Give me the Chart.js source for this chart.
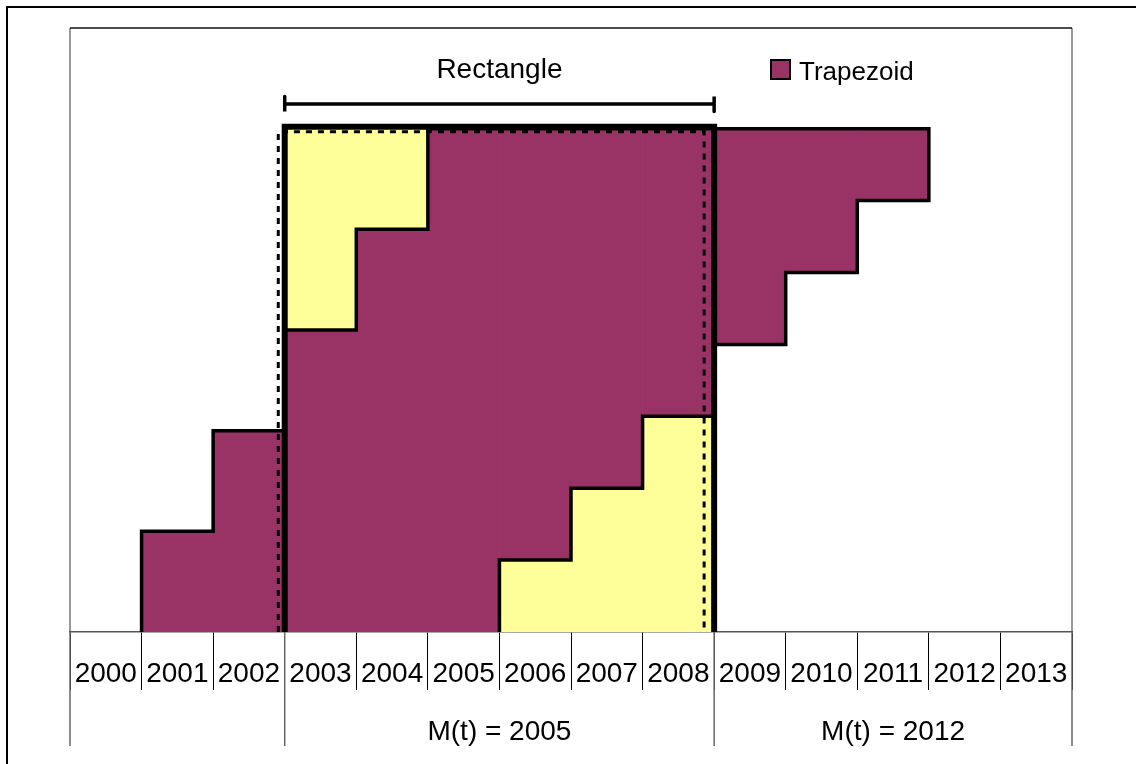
<!DOCTYPE html>
<html>
<head>
<meta charset="utf-8">
<script src="https://cdn.jsdelivr.net/npm/chart.js@4/dist/chart.umd.min.js"></script>
<style>
html,body{margin:0;padding:0;background:#fff;}
#wrap{position:relative;width:1136px;height:764px;}
</style>
</head>
<body>
<div id="wrap"><canvas id="c" width="1136" height="764"></canvas></div>
<script>
// ---- data ----
const years = ['2000','2001','2002','2003','2004','2005','2006','2007','2008','2009','2010','2011','2012','2013'];
const rectangleValues = [null,null,null,1,1,1,1,1,1,null,null,null,null,null];
const trapezoidLow  = [null,0,0,0,0,0,1/7,2/7,3/7,4/7,5/7,6/7,null,null];
const trapezoidHigh = [null,0.2,0.4,0.6,0.8,1,1,1,1,1,1,1,null,null];
const groupLabels = ['', 'M(t) = 2005', 'M(t) = 2012'];
const groupStarts = [0, 3, 9];
const seriesNames = ['Rectangle', 'Trapezoid'];

// ---- derived geometry (from the data) ----
const FONT = "'Liberation Sans', Arial, sans-serif";
const PURPLE = '#993366';
const YELLOW = '#FFFF99';

function rectExtent() {
  const idx = rectangleValues.map((v,i)=>v==null?null:i).filter(v=>v!=null);
  return {x0: idx[0], x1: idx[idx.length-1]+1, h: Math.max(...idx.map(i=>rectangleValues[i]))};
}
const R = rectExtent();

function trapezoidOutline() {
  const idx = trapezoidHigh.map((v,i)=>v==null?null:i).filter(v=>v!=null);
  const first = idx[0], last = idx[idx.length-1];
  const pts = [{x:first, y:trapezoidLow[first]}];
  idx.forEach(i => { pts.push({x:i, y:trapezoidHigh[i]}, {x:i+1, y:trapezoidHigh[i]}); });
  pts.push({x:last+1, y:trapezoidLow[last]});
  for (let i = last; i >= first; i--) {
    if (trapezoidLow[i] === 0) { pts.push({x:i+1, y:0}); break; }
    pts.push({x:i+1, y:trapezoidLow[i]}, {x:i, y:trapezoidLow[i]});
  }
  return pts;
}
function rectOutline(dx0, dx1, dy) {
  return [{x:R.x0+dx0, y:0}, {x:R.x0+dx0, y:R.h+dy}, {x:R.x1+dx1, y:R.h+dy}, {x:R.x1+dx1, y:0}];
}
function bracket(yc, cap) {
  return [{x:R.x0, y:yc+cap}, {x:R.x0, y:yc-cap}, {x:R.x0, y:yc}, {x:R.x1, y:yc}, {x:R.x1, y:yc+cap}, {x:R.x1, y:yc-cap}];
}

const decor = {
  id: 'decor',
  beforeDraw(chart) {
    const ctx = chart.ctx, a = chart.chartArea;
    ctx.save();
    ctx.fillStyle = '#fff';
    ctx.fillRect(0, 0, chart.width, chart.height);
    // outer frame
    ctx.strokeStyle = '#000'; ctx.lineWidth = 2;
    ctx.beginPath(); ctx.moveTo(7, chart.height); ctx.lineTo(7, 7); ctx.lineTo(chart.width, 7); ctx.stroke();
    // plot frame
    ctx.strokeStyle = '#777'; ctx.lineWidth = 1.5;
    ctx.beginPath(); ctx.moveTo(a.left, a.bottom); ctx.lineTo(a.left, a.top); ctx.moveTo(a.right, a.top); ctx.lineTo(a.right, a.bottom); ctx.stroke();
    ctx.strokeStyle = '#111';
    ctx.beginPath(); ctx.moveTo(a.left, a.top); ctx.lineTo(a.right, a.top); ctx.stroke();
    ctx.restore();
  },
  afterDraw(chart) {
    const ctx = chart.ctx, a = chart.chartArea, xl = chart.scales.xl;
    ctx.save();
    // group separators
    ctx.strokeStyle = '#666'; ctx.lineWidth = 1.5;
    const bounds = groupStarts.concat([years.length]);
    bounds.forEach(b => {
      const px = xl.getPixelForValue(b);
      ctx.beginPath(); ctx.moveTo(px, a.bottom); ctx.lineTo(px, 746); ctx.stroke();
    });
    // group labels
    ctx.fillStyle = '#000'; ctx.font = '28px ' + FONT; ctx.textAlign = 'center'; ctx.textBaseline = 'alphabetic';
    groupLabels.forEach((lab, g) => {
      if (!lab) return;
      const cx = (xl.getPixelForValue(bounds[g]) + xl.getPixelForValue(bounds[g+1])) / 2;
      ctx.fillText(lab, cx, 740);
    });
    // Rectangle label above bracket
    ctx.fillText(seriesNames[0], xl.getPixelForValue((R.x0 + R.x1) / 2), 78);
    // legend (Trapezoid)
    ctx.fillStyle = PURPLE; ctx.fillRect(771, 60, 19, 19);
    ctx.strokeStyle = '#000'; ctx.lineWidth = 2; ctx.strokeRect(771, 60, 19, 19);
    ctx.fillStyle = '#000'; ctx.font = '26px ' + FONT; ctx.textAlign = 'left';
    ctx.fillText(seriesNames[1], 799, 80);
    ctx.restore();
  }
};

const lineBase = {type:'line', xAxisID:'xl', yAxisID:'y', pointRadius:0, fill:false, tension:0,
  borderColor:'#000', clip:false, borderJoinStyle:'miter', borderCapStyle:'butt'};

new Chart(document.getElementById('c'), {
  type: 'bar',
  data: {
    labels: years,
    datasets: [
      Object.assign({}, lineBase, {label:'thick', data: rectOutline(0, 0, 0.004), borderWidth: 6, order: 0}),
      Object.assign({}, lineBase, {label:'dashed', data: rectOutline(-0.09, -0.14, -0.006), borderWidth: 3, borderDash:[6,6], order: 1}),
      Object.assign({}, lineBase, {label:'outline', data: trapezoidOutline(), borderWidth: 3.5, order: 2}),
      Object.assign({}, lineBase, {label:'bracket', data: bracket(1.049, 0.015), borderWidth: 3.5, borderCapStyle:'round', order: 3}),
      {label: seriesNames[1], data: trapezoidHigh.map((h,i)=>h==null?null:[trapezoidLow[i], h]),
        backgroundColor: PURPLE, borderWidth: 0, grouped:false, barPercentage:1, categoryPercentage:1, order: 5},
      {label: seriesNames[0], data: rectangleValues.map(v=>v==null?null:[0, v]),
        backgroundColor: YELLOW, borderWidth: 0, grouped:false, barPercentage:1, categoryPercentage:1, order: 6}
    ]
  },
  options: {
    responsive: false,
    animation: false,
    devicePixelRatio: 1,
    events: [],
    layout: {padding: {left: 70, right: 64, top: 28, bottom: 0}},
    plugins: {legend: {display: false}, tooltip: {enabled: false}},
    scales: {
      x: {
        type: 'category', offset: true, position: 'bottom',
        grid: {offset: true, drawOnChartArea: false, drawTicks: true, tickLength: 58, tickColor: '#000', tickWidth: 1},
        border: {display: true, color: '#555', width: 1.5},
        ticks: {color: '#000', font: {size: 28, family: FONT}, padding: -33, maxRotation: 0, autoSkip: false},
        afterFit(s) { s.height = 132; }
      },
      xl: {type: 'linear', display: false, min: 0, max: years.length, offset: false},
      y: {display: false, min: 0, max: 1.2}
    }
  },
  plugins: [decor]
});
</script>
</body>
</html>
